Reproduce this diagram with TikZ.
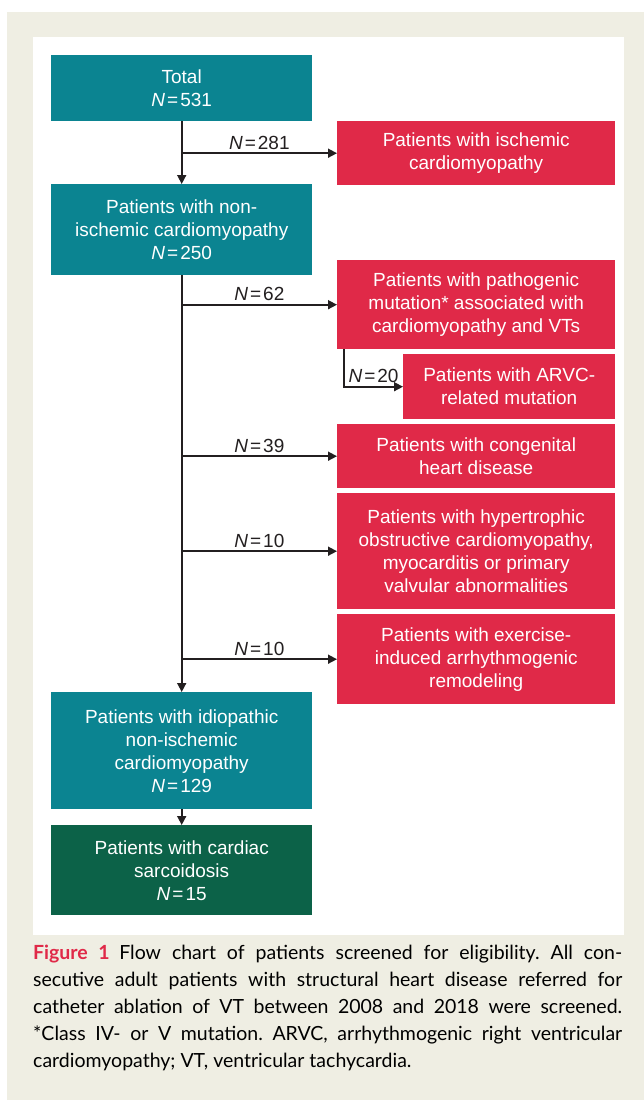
\documentclass[tikz,border=0pt]{standalone}
\usepackage{fontspec}
\setmainfont{Liberation Sans}
\newfontfamily\captionfont{Lato}
\usetikzlibrary{arrows.meta}
\usetikzlibrary{positioning}

\definecolor{boxteal}{RGB}{11,132,145}
\definecolor{boxred}{RGB}{224,41,72}
\definecolor{boxgreen}{RGB}{12,98,72}
\definecolor{panelbeige}{RGB}{239,238,227}
\definecolor{linegray}{RGB}{35,31,32}

\tikzset{
    flowbox/.style={
        rectangle, anchor=north west, inner sep=0pt,
        text=white, align=center,
        font=\fontsize{19}{23}\selectfont,
    },
    tealbox/.style={flowbox, fill=boxteal, minimum width=261pt},
    redbox/.style={flowbox, fill=boxred, minimum width=278pt},
    flowline/.style={
        draw=linegray, line width=1.6pt,
        -{Triangle[length=9pt,width=9pt]},
    },
    countlabel/.style={
        above, inner sep=3pt, text=linegray,
        font=\fontsize{19}{23}\selectfont,
    },
}
\newcommand{\Ncount}[1]{\textit{N}\kern2pt=\kern2pt#1}

\begin{document}
\begin{tikzpicture}[x=1pt, y=-1pt]
        \useasboundingbox (0,0) rectangle (644,1100);
        \fill[panelbeige] (7,12) rectangle (644,1100);
        \fill[white] (33,37) rectangle (624,935);

        % left column
        \node (total) at (51,55) [tealbox, minimum height=66pt]
            {Total\\\Ncount{531}};
        \node (nonischemic) at (51,184) [tealbox, minimum height=91pt]
            {Patients with non-\\ischemic cardiomyopathy\\\Ncount{250}};
        \node (idiopathic) at (51,692) [tealbox, minimum height=117pt]
            {Patients with idiopathic\\non-ischemic\\cardiomyopathy\\\Ncount{129}};
        \node (sarcoidosis) at (51,825) [tealbox, fill=boxgreen, minimum height=90pt]
            {Patients with cardiac\\sarcoidosis\\\Ncount{15}};

        % right column
        \node (ischemic) at (337,121) [redbox, minimum height=64pt]
            {Patients with ischemic\\cardiomyopathy};
        \node (pathogenic) at (337,260) [redbox, minimum height=89pt]
            {Patients with pathogenic\\mutation* associated with\\cardiomyopathy and VTs};
        \node (arvc) at (403,354) [redbox, minimum width=212pt, minimum height=65pt]
            {Patients with ARVC-\\related mutation};
        \node (congenital) at (337,424) [redbox, minimum height=64pt]
            {Patients with congenital\\heart disease};
        \node (hypertrophic) at (337,493) [redbox, minimum height=116pt]
            {Patients with hypertrophic\\obstructive cardiomyopathy,\\myocarditis or primary\\valvular abnormalities};
        \node (exercise) at (337,614) [redbox, minimum height=90pt]
            {Patients with exercise-\\induced arrhythmogenic\\remodeling};

        % connectors
        \draw[flowline] (total.south) -- (nonischemic.north);
        \draw[flowline] (nonischemic.south) -- (idiopathic.north);
        \draw[flowline] (idiopathic.south) -- (sarcoidosis.north);
        \foreach \target/\n in {ischemic/281, pathogenic/62, congenital/39, hypertrophic/10, exercise/10}
            \draw[flowline] (total.south |- \target.west) -- (\target.west)
                node[countlabel, midway] {\Ncount{\n}};
        \coordinate (fork) at ([xshift=7pt]pathogenic.south west);
        \draw[flowline] (fork) |- (arvc.west)
            node[countlabel, pos=0.75] {\Ncount{20}};

        % caption
        \node (caption) at (33,945) [
            anchor=north west, inner sep=0pt,
            text width=589pt, align=justify,
            font=\captionfont\fontsize{19.5}{27}\selectfont,
            text=black,
        ] {\frenchspacing\hyphenpenalty=10000{\color{boxred}\bfseries Figure 1}\enspace Flow chart of patients screened for eligibility. All con-\linebreak secutive adult patients with structural heart disease referred for\linebreak catheter ablation of VT between 2008 and 2018 were screened.\linebreak *Class IV- or V mutation. ARVC, arrhythmogenic right ventricular\linebreak cardiomyopathy; VT, ventricular tachycardia.};
    \end{tikzpicture}
\end{document}
